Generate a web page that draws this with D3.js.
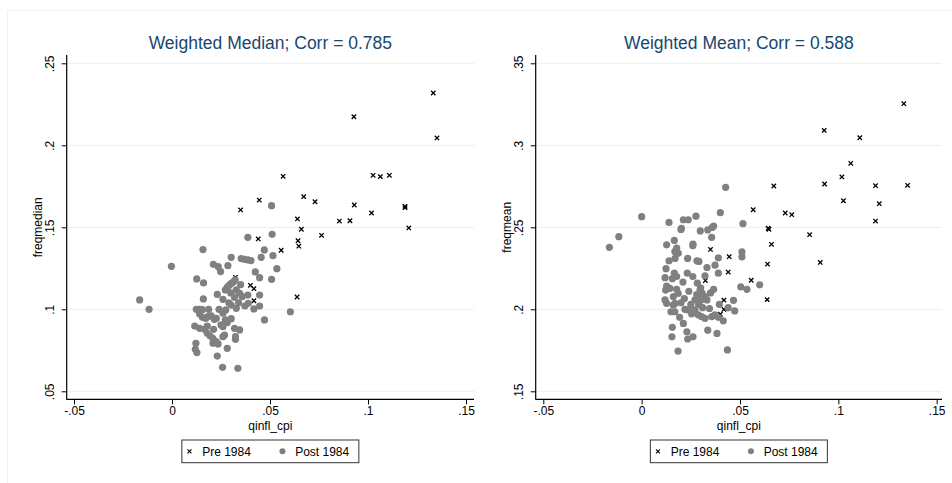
<!DOCTYPE html>
<html>
<head>
<meta charset="utf-8">
<script src="https://cdn.jsdelivr.net/npm/d3@7"></script>
<style>
  body { margin: 0; background: #ffffff; }
  svg text { font-family: "Liberation Sans", Arial, Helvetica, sans-serif; }
</style>
</head>
<body>
<svg id="chart" width="952" height="483"></svg>
<script>
// ---- data -------------------------------------------------------------
const xTicks = [-0.05, 0, 0.05, 0.1, 0.15];
const xTickLabels = ["-.05", "0", ".05", ".1", ".15"];
const medianTicks = [0.05, 0.1, 0.15, 0.2, 0.25];
const medianTickLabels = [".05", ".1", ".15", ".2", ".25"];
const meanTicks = [0.15, 0.2, 0.25, 0.3, 0.35];
const meanTickLabels = [".15", ".2", ".25", ".3", ".35"];
const legendLabels = ["Pre 1984", "Post 1984"];

// Pre-1984 quarters: shared inflation, weighted median and weighted mean frequency
const preX = [0.1333, 0.0928, 0.1352, 0.0567, 0.1026, 0.1063, 0.1109, 0.0445, 0.0672, 0.0730,
              0.0930, 0.1189, 0.1189, 0.1018, 0.0640, 0.0854, 0.0908, 0.1208, 0.0660, 0.0763,
              0.0350, 0.0440, 0.0557, 0.0643, 0.0647, 0.0638, 0.0324, 0.0400, 0.0418, 0.0418];
const preMedian = [0.2319, 0.2174, 0.2045, 0.1811, 0.1817, 0.1809, 0.1817, 0.1666, 0.1687, 0.1656,
                   0.1636, 0.1628, 0.1620, 0.1587, 0.1551, 0.1538, 0.1540, 0.1496, 0.1488, 0.1451,
                   0.1606, 0.1429, 0.1360, 0.1418, 0.1385, 0.1075, 0.1195, 0.1146, 0.1126, 0.1052];
const preMean = [0.3254, 0.3091, 0.2756, 0.2607, 0.2662, 0.2890, 0.3046, 0.2321, 0.2752, 0.2587,
                 0.2764, 0.2754, 0.2538, 0.2807, 0.2276, 0.2455, 0.2286, 0.2644, 0.2396, 0.2577,
                 0.2365, 0.2227, 0.2177, 0.2494, 0.2488, 0.2059, 0.2175, 0.1970, 0.1999, 0.2056];

// Post-1984 quarters: [inflation, weighted median frequency]
const postMedian = [
  [-0.0165, 0.1057], [-0.0117, 0.1000], [-0.0003, 0.1262],
  [0.0158, 0.1364], [0.0126, 0.1185], [0.0161, 0.1161], [0.0160, 0.1063],
  [0.0211, 0.1274], [0.0236, 0.1260], [0.0248, 0.1230], [0.0285, 0.1266],
  [0.0302, 0.1317], [0.0353, 0.1309], [0.0370, 0.1305], [0.0388, 0.1301], [0.0403, 0.1297],
  [0.0387, 0.1439], [0.0511, 0.1457], [0.0508, 0.1632], [0.0471, 0.1362], [0.0455, 0.1317],
  [0.0515, 0.1327], [0.0535, 0.1248], [0.0425, 0.1228], [0.0447, 0.1193], [0.0508, 0.1183],
  [0.0322, 0.1180], [0.0314, 0.1168], [0.0305, 0.1160], [0.0297, 0.1152], [0.0290, 0.1145],
  [0.0282, 0.1135], [0.0272, 0.1118], [0.0231, 0.1091], [0.0260, 0.1061], [0.0328, 0.1118],
  [0.0345, 0.1098], [0.0319, 0.1073], [0.0358, 0.1077], [0.0387, 0.1087], [0.0389, 0.1037],
  [0.0372, 0.1020], [0.0418, 0.1002], [0.0447, 0.1020], [0.0328, 0.1006], [0.0302, 0.1026],
  [0.0274, 0.0996], [0.0260, 0.0976], [0.0124, 0.1000], [0.0141, 0.1000], [0.0155, 0.0998],
  [0.0187, 0.1000], [0.0141, 0.0972], [0.0155, 0.0951], [0.0172, 0.0945], [0.0183, 0.0955],
  [0.0226, 0.0945], [0.0216, 0.0939], [0.0272, 0.0935], [0.0282, 0.0919], [0.0302, 0.0943],
  [0.0116, 0.0898], [0.0141, 0.0884], [0.0167, 0.0878], [0.0180, 0.0898], [0.0212, 0.0878],
  [0.0260, 0.0894], [0.0319, 0.0884], [0.0345, 0.0874], [0.0324, 0.0833], [0.0324, 0.0817],
  [0.0180, 0.0854], [0.0195, 0.0837], [0.0209, 0.0823], [0.0226, 0.0803], [0.0209, 0.0793],
  [0.0235, 0.0789], [0.0268, 0.0843], [0.0260, 0.0833], [0.0472, 0.0935], [0.0122, 0.0793],
  [0.0119, 0.0756], [0.0127, 0.0736], [0.0231, 0.0715], [0.0282, 0.0762], [0.0258, 0.0646],
  [0.0336, 0.0640], [0.0604, 0.0985], [0.0447, 0.1087],
  [0.0240, 0.1000], [0.0290, 0.1040], [0.0340, 0.1040], [0.0200, 0.0960], [0.0250, 0.0905],
  [0.0350, 0.1150], [0.0300, 0.1100]
];

// Post-1984 quarters: [inflation, weighted mean frequency]
const postMean = [
  [-0.0164, 0.2378], [-0.0116, 0.2443], [0.0000, 0.2565],
  [0.0139, 0.2530], [0.0212, 0.2546], [0.0237, 0.2546], [0.0276, 0.2568], [0.0400, 0.2589],
  [0.0202, 0.2494], [0.0298, 0.2478], [0.0336, 0.2484], [0.0366, 0.2508], [0.0356, 0.2439],
  [0.0427, 0.2744], [0.0515, 0.2522], [0.0510, 0.2351], [0.0510, 0.2320],
  [0.0127, 0.2393], [0.0166, 0.2420], [0.0178, 0.2373], [0.0169, 0.2353], [0.0186, 0.2342],
  [0.0261, 0.2397], [0.0139, 0.2296], [0.0170, 0.2310], [0.0234, 0.2310], [0.0281, 0.2296],
  [0.0291, 0.2292], [0.0390, 0.2314], [0.0373, 0.2269], [0.0332, 0.2255], [0.0124, 0.2248],
  [0.0166, 0.2220], [0.0178, 0.2200], [0.0156, 0.2187], [0.0232, 0.2220], [0.0210, 0.2166],
  [0.0119, 0.2193], [0.0283, 0.2159], [0.0322, 0.2204], [0.0390, 0.2220],
  [0.0127, 0.2142], [0.0122, 0.2117], [0.0144, 0.2128], [0.0178, 0.2122], [0.0186, 0.2097],
  [0.0161, 0.2077], [0.0119, 0.2057], [0.0127, 0.2036], [0.0169, 0.2036], [0.0217, 0.2066],
  [0.0366, 0.2122], [0.0297, 0.2118], [0.0308, 0.2097], [0.0288, 0.2077], [0.0322, 0.2077],
  [0.0271, 0.2057], [0.0302, 0.2057], [0.0332, 0.2057], [0.0271, 0.1996], [0.0237, 0.1996],
  [0.0220, 0.2000], [0.0254, 0.1972], [0.0288, 0.1966], [0.0305, 0.1955], [0.0322, 0.1945],
  [0.0356, 0.1955], [0.0373, 0.1966], [0.0390, 0.1951], [0.0149, 0.1985], [0.0169, 0.1985],
  [0.0161, 0.2026], [0.0193, 0.1951], [0.0212, 0.1914], [0.0156, 0.1890], [0.0154, 0.1832],
  [0.0230, 0.1863], [0.0234, 0.1819], [0.0261, 0.1832], [0.0336, 0.1873], [0.0383, 0.1853],
  [0.0185, 0.1745], [0.0436, 0.1752], [0.0467, 0.2055], [0.0473, 0.1990], [0.0415, 0.1930],
  [0.0440, 0.2010], [0.0395, 0.2030], [0.0504, 0.2137], [0.0535, 0.2122], [0.0600, 0.2149],
  [0.0359, 0.2499], [0.0200, 0.2487], [0.0260, 0.2388],
  [0.0290, 0.2030], [0.0310, 0.2010], [0.0280, 0.2090], [0.0300, 0.2130], [0.0345, 0.2005],
  [0.0350, 0.2100], [0.0250, 0.2030], [0.0240, 0.2110], [0.0260, 0.2200], [0.0200, 0.2040]
];

// ---- layout -------------------------------------------------------------
const panels = [
  {
    title: "Weighted Median; Corr = 0.785", yLabel: "freqmedian",
    yTicks: medianTicks, yTickLabels: medianTickLabels,
    pre: preX.map((x, i) => [x, preMedian[i]]), post: postMedian,
    left: 66.7, right: 474, xRange: [74, 466]
  },
  {
    title: "Weighted Mean; Corr = 0.588", yLabel: "freqmean",
    yTicks: meanTicks, yTickLabels: meanTickLabels,
    pre: preX.map((x, i) => [x, preMean[i]]), post: postMean,
    left: 535.7, right: 942, xRange: [543.3, 936.7]
  }
];

const axisY = 399.3, plotTop = 55, yRange = [391.3, 63.3];
const titleColor = "#1a476f", gridColor = "#e8eef0", dotColor = "#808080";

const svg = d3.select("#chart");

// faint outer frame of the graph region
svg.append("rect")
  .attr("x", 7.5).attr("y", 10.5).attr("width", 980).attr("height", 500)
  .attr("fill", "none").attr("stroke", "#eef2f3").attr("stroke-width", 1);

const crossPath = s => `M${-s},${-s}L${s},${s}M${-s},${s}L${s},${-s}`;

panels.forEach(p => {
  const x = d3.scaleLinear().domain([-0.05, 0.15]).range(p.xRange);
  const y = d3.scaleLinear().domain([p.yTicks[0], p.yTicks[p.yTicks.length - 1]]).range(yRange);
  const g = svg.append("g");
  const mid = (p.left + p.right) / 2;

  // grid lines
  g.append("g").selectAll("line").data(p.yTicks).join("line")
    .attr("x1", p.left + 1).attr("x2", p.right)
    .attr("y1", d => y(d)).attr("y2", d => y(d))
    .attr("stroke", gridColor).attr("stroke-width", 1);

  // y axis
  const ya = g.append("g").attr("transform", `translate(${p.left},0)`)
    .call(d3.axisLeft(y).tickValues(p.yTicks)
      .tickFormat((d, i) => p.yTickLabels[i]).tickSize(5).tickSizeOuter(0));
  ya.select(".domain").remove();
  ya.selectAll(".tick line").attr("stroke", "#000").attr("stroke-width", 1);
  ya.selectAll(".tick text")
    .attr("transform", "rotate(-90)")
    .attr("x", 0).attr("y", -12.3).attr("dy", 0)
    .attr("text-anchor", "middle")
    .attr("font-size", 12).attr("fill", "#000");
  g.append("line").attr("x1", p.left).attr("x2", p.left)
    .attr("y1", plotTop).attr("y2", axisY + 0.5)
    .attr("stroke", "#000").attr("stroke-width", 1.2);

  // x axis
  const xa = g.append("g").attr("transform", `translate(0,${axisY})`)
    .call(d3.axisBottom(x).tickValues(xTicks)
      .tickFormat((d, i) => xTickLabels[i]).tickSize(5).tickPadding(2).tickSizeOuter(0));
  xa.select(".domain").remove();
  xa.selectAll(".tick line").attr("stroke", "#000").attr("stroke-width", 1);
  xa.selectAll(".tick text").attr("font-size", 12).attr("fill", "#000");
  g.append("line").attr("x1", p.left).attr("x2", p.right)
    .attr("y1", axisY).attr("y2", axisY)
    .attr("stroke", "#000").attr("stroke-width", 1.2);

  // axis titles
  g.append("text").attr("x", mid).attr("y", 429.5)
    .attr("text-anchor", "middle").attr("font-size", 12).text("qinfl_cpi");
  g.append("text")
    .attr("transform", `translate(${p.left - 25},${(yRange[0] + yRange[1]) / 2}) rotate(-90)`)
    .attr("text-anchor", "middle").attr("font-size", 12).text(p.yLabel);

  // panel title
  g.append("text").attr("x", mid).attr("y", 49)
    .attr("text-anchor", "middle").attr("font-size", 17.5)
    .attr("fill", titleColor).text(p.title);

  // pre-1984 markers
  g.append("g").selectAll("path").data(p.pre).join("path")
    .attr("transform", d => `translate(${x(d[0])},${y(d[1])})`)
    .attr("d", crossPath(2.2))
    .attr("stroke", "#000").attr("stroke-width", 1.3).attr("fill", "none");

  // post-1984 markers
  g.append("g").selectAll("circle").data(p.post).join("circle")
    .attr("cx", d => x(d[0])).attr("cy", d => y(d[1]))
    .attr("r", 3.6).attr("fill", dotColor);

  // legend
  const lw = 177, lh = 22.7, lx = mid - lw / 2, ly = 440;
  const lg = g.append("g");
  lg.append("rect").attr("x", lx).attr("y", ly).attr("width", lw).attr("height", lh)
    .attr("fill", "#fff").attr("stroke", "#333").attr("stroke-width", 1);
  lg.append("path")
    .attr("transform", `translate(${lx + 7.6},${ly + lh / 2})`)
    .attr("d", crossPath(2))
    .attr("stroke", "#000").attr("stroke-width", 1.1).attr("fill", "none");
  lg.append("text").attr("x", lx + 20.3).attr("y", ly + lh / 2 + 4.3)
    .attr("font-size", 12).text(legendLabels[0]);
  lg.append("circle").attr("cx", lx + 100.6).attr("cy", ly + lh / 2)
    .attr("r", 3).attr("fill", dotColor);
  lg.append("text").attr("x", lx + 113.3).attr("y", ly + lh / 2 + 4.3)
    .attr("font-size", 12).text(legendLabels[1]);
});
</script>
</body>
</html>
